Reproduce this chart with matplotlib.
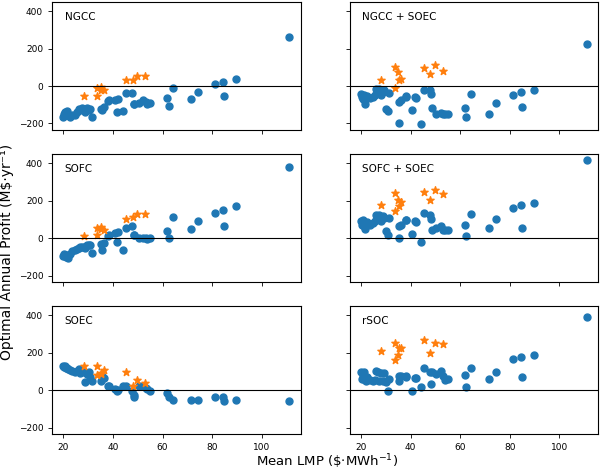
import matplotlib
matplotlib.use('Agg')
import matplotlib.pyplot as plt

# mean LMP for each scenario (same for all six configurations)
lmp = [20.0, 20.3, 20.7, 21.0, 21.5, 22.0, 22.5, 23.5, 24.7, 25.5, 26.1, 26.7, 27.4, 28.1,
       28.8, 29.4, 30.1, 30.8, 31.4, 35.3, 35.5, 36.2, 38.0, 38.2, 40.7, 41.6, 42.2, 44.2,
       45.3, 47.7, 48.3, 48.6, 50.3, 52.3, 53.2, 53.7, 55.0, 62.0, 62.5, 64.4, 71.5, 74.3,
       81.3, 84.4, 85.0, 89.8, 111.2]

# LMP of the starred scenarios
star_lmp = [28.1, 33.5, 33.6, 35.1, 35.3, 36.2, 45.3, 48.0, 49.7, 53.0]

ngcc = [-166, -148, -139, -157, -136, -157, -163, -157, -157, -139, -121, -130, -116, -121,
        -139, -116, -130, -121, -166, -121, -127, -112, -80, -77, -73, -139, -71, -134,
        -38, -38, -98, -98, -91, -77, -86, -98, -89, -62, -105, -9, -70, -34,
        12, 23, -52, 38, 259]
ngcc_star = [-54, -9, -55, -20, -5, -23, 34, 34, 55, 52]

ngcc_soec = [-41, -59, -68, -50, -98, -59, -55, -62, -59, -50, -14, -23, -14, -50,
             -32, -20, -121, -134, -38, -86, -198, -77, -59, -54, -130, -59, -62, -202,
             -20, -23, -45, -116, -148, -145, -152, -152, -148, -116, -166, -45, -148, -91,
             -46, -32, -112, -20, 223]
ngcc_soec_star = [34, 102, -9, 75, 30, 39, 95, 66, 114, 79]

sofc = [-95, -84, -98, -102, -89, -107, -84, -71, -62, -59, -54, -45, -48, -45,
        -54, -36, -38, -36, -77, -30, -66, -27, 12, 16, 27, -23, 32, -62,
        54, 66, 18, 18, -2, 0, 2, -5, 0, 38, 0, 111, 48, 91,
        134, 148, 62, 170, 379]
sofc_star = [9, 54, 18, 48, 57, 41, 102, 113, 129, 130]

sofc_soec = [89, 71, 98, 66, 48, 77, 84, 71, 80, 89, 125, 116, 125, 89,
             116, 107, 36, 18, 107, 63, 0, 71, 95, 98, 23, 89, 84, -23,
             134, 125, 104, 45, 54, 63, 45, 41, 41, 71, 9, 127, 54, 104,
             161, 175, 54, 188, 418]
sofc_soec_star = [179, 238, 145, 205, 170, 195, 248, 205, 254, 236]

soec = [127, 121, 130, 116, 120, 113, 109, 104, 98, 104, 113, 91, 104, 95,
        41, 86, 95, 68, 50, 50, 77, 63, 23, 20, 5, -4, 2, 20,
        20, -4, -27, -39, 23, 20, 9, 5, -4, -13, -39, -52, -52, -52,
        -39, -39, -57, -52, -59]
soec_star = [130, 127, 80, 86, 91, 107, 95, 20, 55, 38]

rsoc = [95, 59, 77, 98, 55, 50, 68, 54, 50, 55, 104, 95, 50, 91,
        50, 91, 41, -7, 59, 73, 50, 77, 73, 68, -5, 63, 63, 18,
        116, 98, 32, 95, 84, 100, 77, 54, 57, 82, 18, 120, 59, 98,
        166, 177, 70, 186, 388]
rsoc_star = [207, 254, 161, 188, 223, 223, 270, 200, 252, 245]

titles = ['NGCC', 'NGCC + SOEC', 'SOFC', 'SOFC + SOEC', 'SOEC', 'rSOC']
profits = [ngcc, ngcc_soec, sofc, sofc_soec, soec, rsoc]
star_profits = [ngcc_star, ngcc_soec_star, sofc_star, sofc_soec_star, soec_star, rsoc_star]

fig, axes = plt.subplots(3, 2, sharex=True, sharey=True, figsize=(6, 4.71), dpi=100)
plt.subplots_adjust(left=0.087, right=0.997, top=0.996, bottom=0.079, wspace=0.198, hspace=0.19)

for ax, title, prof, sprof in zip(axes.flat, titles, profits, star_profits):
    ax.scatter(lmp, prof, s=25, color='tab:blue')
    ax.scatter(star_lmp, sprof, s=30, marker='*', color='tab:orange')
    ax.axhline(0, color='k', lw=0.8)
    ax.text(0.05, 0.88, title, transform=ax.transAxes, va='center', fontsize=7.5)
    ax.tick_params(labelsize=6.5, length=3, width=0.6)

axes[0, 0].set_xticks([20, 40, 60, 80, 100])
axes[0, 0].set_yticks([-200, 0, 200, 400])

fig.supylabel('Optimal Annual Profit (M$\u00b7yr\u207b\u00b9)', x=0.0, y=0.465,
              ha='left', fontsize=10)
fig.supxlabel(r'Mean LMP (\$$\cdot$MWh$^{-1}$)', y=0.0, x=0.545, fontsize=9.5)

plt.savefig('out.png')
